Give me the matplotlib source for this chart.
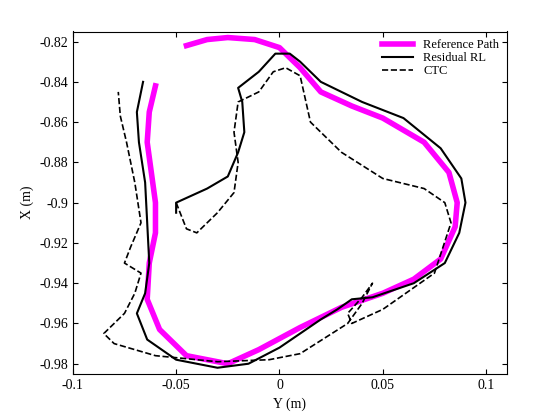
import numpy as np
import matplotlib.pyplot as plt

plt.rcParams['font.family'] = ['Liberation Serif', 'DejaVu Serif']

ref_y = [-0.045, -0.035, -0.025, -0.012, 0.0, 0.01, 0.02, 0.035, 0.05, 0.07, 0.082, 0.086, 0.085, 0.078, 0.065, 0.05, 0.03, 0.01,
         -0.01, -0.025, -0.045, -0.058, -0.064, -0.063, -0.060, -0.060, -0.062, -0.064, -0.063, -0.060]
ref_x = [-0.822, -0.819, -0.818, -0.819, -0.823, -0.833, -0.845, -0.852, -0.858, -0.870, -0.885, -0.900, -0.912, -0.928, -0.938, -0.945, -0.952, -0.962,
         -0.973, -0.980, -0.976, -0.963, -0.948, -0.930, -0.915, -0.900, -0.885, -0.870, -0.855, -0.842]

rl_y = [-0.050, -0.050, -0.035, -0.025, -0.020, -0.017, -0.018, -0.020, -0.010, -0.002, 0.005, 0.010, 0.020, 0.040, 0.060, 0.078, 0.088,
        0.090, 0.087, 0.080, 0.065, 0.045, 0.035, 0.028, 0.020, 0.0, -0.015, -0.030, -0.050, -0.064, -0.069, -0.065, -0.063, -0.064, -0.065,
        -0.068, -0.069, -0.066]
rl_x = [-0.905, -0.900, -0.893, -0.887, -0.875, -0.865, -0.850, -0.843, -0.835, -0.826, -0.826, -0.830, -0.840, -0.850, -0.858, -0.873, -0.888,
        -0.900, -0.915, -0.930, -0.940, -0.947, -0.948, -0.953, -0.958, -0.972, -0.980, -0.982, -0.978, -0.968, -0.955, -0.945, -0.930, -0.910, -0.890,
        -0.870, -0.855, -0.840]

ctc_y = [-0.050, -0.045, -0.040, -0.030, -0.022, -0.020, -0.022, -0.020, -0.010, -0.003, 0.003, 0.010, 0.015, 0.030, 0.050, 0.070, 0.080,
         0.083, 0.075, 0.050, 0.035, 0.033, 0.040, 0.045, 0.040, 0.033, 0.010, -0.005, -0.030, -0.060, -0.080, -0.085, -0.075, -0.070, -0.067,
         -0.075, -0.072, -0.067, -0.070, -0.074, -0.077, -0.078]
ctc_x = [-0.900, -0.913, -0.915, -0.905, -0.895, -0.880, -0.865, -0.850, -0.845, -0.835, -0.833, -0.837, -0.860, -0.875, -0.888, -0.893, -0.900,
         -0.910, -0.935, -0.953, -0.960, -0.955, -0.947, -0.940, -0.950, -0.960, -0.975, -0.978, -0.979, -0.976, -0.970, -0.965, -0.955, -0.945, -0.935,
         -0.930, -0.922, -0.910, -0.890, -0.870, -0.857, -0.845]

fig = plt.figure(figsize=(5.6, 4.2), dpi=100)
ax = fig.add_axes([0.13, 0.11, 0.775, 0.815])
ax.plot(ref_y, ref_x, color='#ff00ff', lw=4, label='Reference Path')
ax.plot(rl_y, rl_x, color='k', lw=1.5, label='Residual RL')
ax.plot(ctc_y, ctc_x, color='k', lw=1.2, ls='--', label='CTC')
ax.set_xlim(-0.1, 0.11)
ax.set_ylim(-0.985, -0.815)
ax.set_xticks([-0.1, -0.05, 0, 0.05, 0.1])
ax.set_xticklabels(['-0.1', '-0.05', '0', '0.05', '0.1'])
ax.set_yticks(np.arange(-0.98, -0.81, 0.02))
ax.set_yticklabels(['%g' % v for v in np.arange(-0.98, -0.81, 0.02).round(2)])
ax.tick_params(direction='in', top=True, right=True, labelsize=10)
ax.set_xlabel('Y (m)')
ax.set_ylabel('X (m)')
ax.legend(loc='upper right', fontsize=9, frameon=False, handlelength=2.5, borderaxespad=0.2, labelspacing=0.1)
fig.savefig('out.png')
